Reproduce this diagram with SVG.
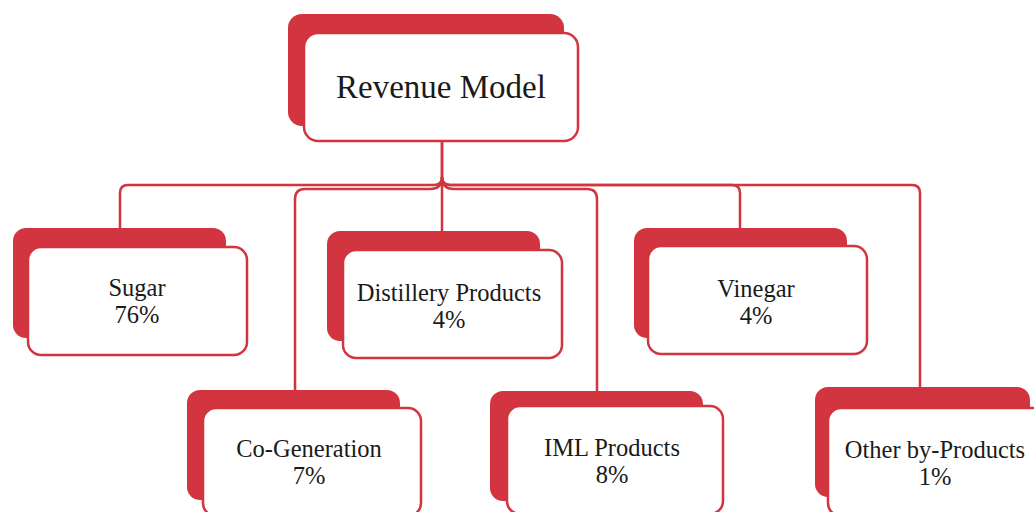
<svg xmlns="http://www.w3.org/2000/svg" width="1034" height="512" viewBox="0 0 1034 512">
<style>
.back{fill:#d2353f;}
.front{fill:#ffffff;stroke:#d2353f;stroke-width:2.5;}
.conn{fill:none;stroke:#d2353f;stroke-width:2.5;}
text{font-family:"Liberation Serif","Times New Roman",serif;fill:#1a1a1a;text-anchor:middle;}
.t{font-size:24.5px;}
.h{font-size:33px;}
</style>
<g id="connectors">
<path class="conn" d="M442,142 V177 Q442,185 434,185 H128 Q120,185 120,193 V230"/>
<path class="conn" d="M442,177 Q442,189 430,189 H305 Q295,189 295,199 V392"/>
<path class="conn" d="M442,142 V233"/>
<path class="conn" d="M442,177 Q442,189 454,189 H587 Q597,189 597,199 V393"/>
<path class="conn" d="M442,177 Q442,185 450,185 H732 Q740,185 740,193 V230"/>
<path class="conn" d="M442,177 Q442,185 450,185 H912 Q920,185 920,193 V389"/>
</g>
<g id="revenue-model">
<rect class="back" x="288" y="14" width="276" height="112" rx="14"/>
<rect class="front" x="304" y="33" width="274" height="108" rx="14"/>
<text class="h" x="441" y="98">Revenue Model</text>
</g>
<g id="sugar">
<rect class="back" x="13" y="228" width="213" height="110" rx="13"/>
<rect class="front" x="28" y="247" width="219" height="108" rx="13"/>
<text class="t" x="137" y="296">Sugar</text>
<text class="t" x="137" y="323">76%</text>
</g>
<g id="distillery">
<rect class="back" x="327" y="231" width="213" height="110" rx="13"/>
<rect class="front" x="343" y="250" width="219" height="108" rx="13"/>
<text class="t" x="449" y="301">Distillery Products</text>
<text class="t" x="449" y="328">4%</text>
</g>
<g id="vinegar">
<rect class="back" x="634" y="228" width="213" height="110" rx="13"/>
<rect class="front" x="648" y="246" width="219" height="108" rx="13"/>
<text class="t" x="756" y="297">Vinegar</text>
<text class="t" x="756" y="324">4%</text>
</g>
<g id="co-generation">
<rect class="back" x="187" y="390" width="213" height="110" rx="13"/>
<rect class="front" x="203" y="408" width="218" height="108" rx="13"/>
<text class="t" x="309" y="457">Co-Generation</text>
<text class="t" x="309" y="484">7%</text>
</g>
<g id="iml">
<rect class="back" x="490" y="391" width="213" height="110" rx="13"/>
<rect class="front" x="507" y="406" width="216" height="108" rx="13"/>
<text class="t" x="612" y="456">IML Products</text>
<text class="t" x="612" y="483">8%</text>
</g>
<g id="other">
<rect class="back" x="815" y="387" width="215" height="110" rx="13"/>
<rect class="front" x="828" y="408" width="219" height="108" rx="13"/>
<text class="t" x="935" y="458">Other by-Products</text>
<text class="t" x="935" y="485">1%</text>
</g>
</svg>
